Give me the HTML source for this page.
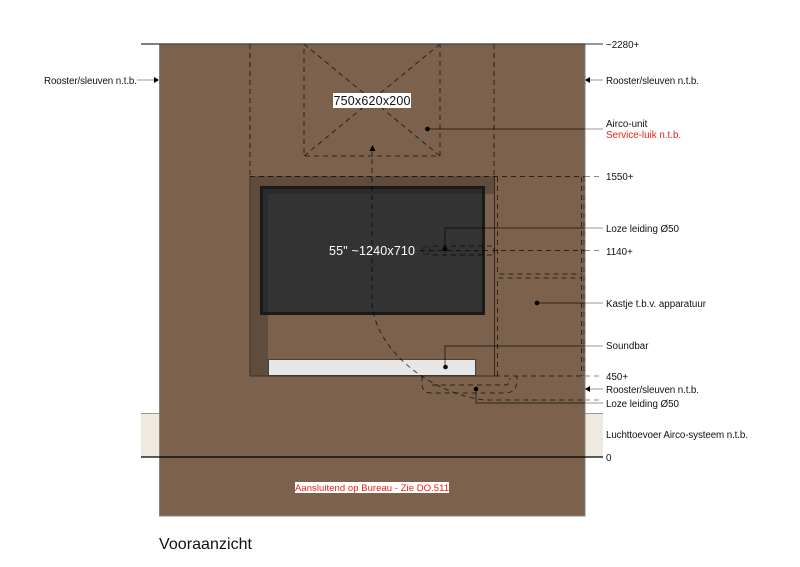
<!DOCTYPE html>
<html><head><meta charset="utf-8"><style>
html,body{margin:0;padding:0;background:#fff}
svg{display:block}
text{font-family:"Liberation Sans",sans-serif;font-size:9.8px;fill:#111}
</style></head><body>
<svg width="800" height="567" viewBox="0 0 800 567" xmlns="http://www.w3.org/2000/svg">
<rect x="141" y="413" width="18" height="44" fill="#eeeae0"/>
<rect x="585" y="413" width="18" height="44" fill="#eeeae0"/>
<path d="M141 413.500H159M585 413.500H603" stroke="#999" stroke-width="1"/>
<rect x="159.500" y="44.500" width="425.500" height="471.500" fill="#7c624c" stroke="#85807a" stroke-width="1"/>
<!-- recess -->
<path d="M250 176H495V194H268V376H250Z" fill="#5f4c3c"/>
<rect x="261.500" y="187.500" width="222" height="126" fill="#333" stroke="#1a1a1a" stroke-width="3"/>
<path d="M263 189H482V194H268V312H263Z" fill="#2c2c2c"/>
<rect x="268.500" y="359.500" width="207" height="16" fill="#e6e6e6" stroke="#4d4135" stroke-width="1"/>
<path d="M250 376H495M250 176V376" stroke="#3c3026" stroke-width="1" fill="none"/>
<path d="M494.500 176V376" stroke="#332920" stroke-width="1"/>
<g fill="none" stroke="#000" stroke-opacity=".65" stroke-width="1" stroke-dasharray="5 4">
<path d="M250 44V176M494 44V176"/>
<rect x="304" y="44" width="136" height="112"/>
<path d="M304 44L440 156M440 44L304 156"/>
<path d="M250 176.500H585"/>
<path d="M497.500 177V274H582"/>
<path d="M581.500 177V376"/>
<path d="M584 177V376" stroke-opacity=".45"/>
<path d="M497.500 376V278H582"/>
<path d="M433 246H494V255H433"/>
<path d="M495 376H585"/>
<path d="M372 150V300C372 340 415 385 473 398Q478 400 490 400H585"/>
<path d="M422 376V384Q422 393 432 393H505Q517 393 517 380V376"/>
<path d="M432 385H505Q510 385 510 378"/>
<path d="M420 250.500H585"/>
<circle cx="426" cy="250.500" r="4" stroke-dasharray="2 1.500"/>
</g>
<g fill="none" stroke="#888" stroke-width="1" stroke-dasharray="5 4">
<path d="M585 176.500H603M585 250.500H603M585 376H603M585 400H603"/>
</g>
<!-- leaders -->
<g fill="none" stroke="#000" stroke-opacity=".65" stroke-width="1">
<path d="M427 129H585M445 249V228H585M537 303H585M445 367V346H585M476 389V403H585"/>
</g>
<g fill="none" stroke="#9a9a9a" stroke-width="1">
<path d="M585 129H603M585 228H603M585 303H603M585 346H603M585 403H603M137 80H154M590 80H603M590 389H603"/>
</g>
<g fill="#000">
<circle cx="427.500" cy="129" r="2.300"/><circle cx="445" cy="249" r="2.300"/><circle cx="537" cy="303" r="2.300"/><circle cx="445.500" cy="367" r="2.300"/><circle cx="476" cy="389" r="2.300"/>
<path d="M372.500 145L375.500 151H369.500Z"/>
<path d="M159 80L154 77V83Z"/><path d="M585 80L590 77V83Z"/><path d="M585 389L590 386V392Z"/>
</g>
<path d="M141 44H585" stroke="#333" stroke-width="1.300"/>
<path d="M585 44H603" stroke="#333" stroke-width="1"/>
<path d="M141 457H603" stroke="#000" stroke-width="1.300"/>
<!-- labels -->
<rect x="333" y="93" width="78" height="15" fill="#fff"/>
<text x="333.500" y="105" style="font-size:12.500px" textLength="77">750x620x200</text>
<text x="329" y="255" style="font-size:12.500px;fill:#fff" textLength="86">55" ~1240x710</text>
<rect x="295" y="482" width="154" height="11" fill="#fff"/>
<text x="295" y="491" style="font-size:9.500px;fill:#f01c14" textLength="154">Aansluitend op Bureau - Zie DO.511</text>
<text x="159" y="549" style="font-size:16px" textLength="93">Vooraanzicht</text>
<text x="44" y="84" textLength="93">Rooster/sleuven n.t.b.</text>
<text x="606" y="48">~2280+</text>
<text x="606" y="84" textLength="93">Rooster/sleuven n.t.b.</text>
<text x="606" y="127">Airco-unit</text>
<text x="606" y="138" style="fill:#f01c14">Service-luik n.t.b.</text>
<text x="606" y="180">1550+</text>
<text x="606" y="232" textLength="73">Loze leiding Ø50</text>
<text x="606" y="255">1140+</text>
<text x="606" y="307" textLength="100">Kastje t.b.v. apparatuur</text>
<text x="606" y="349">Soundbar</text>
<text x="606" y="380">450+</text>
<text x="606" y="393" textLength="93">Rooster/sleuven n.t.b.</text>
<text x="606" y="407" textLength="73">Loze leiding Ø50</text>
<text x="606" y="438" textLength="142">Luchttoevoer Airco-systeem n.t.b.</text>
<text x="606" y="461">0</text>
</svg>
</body></html>
